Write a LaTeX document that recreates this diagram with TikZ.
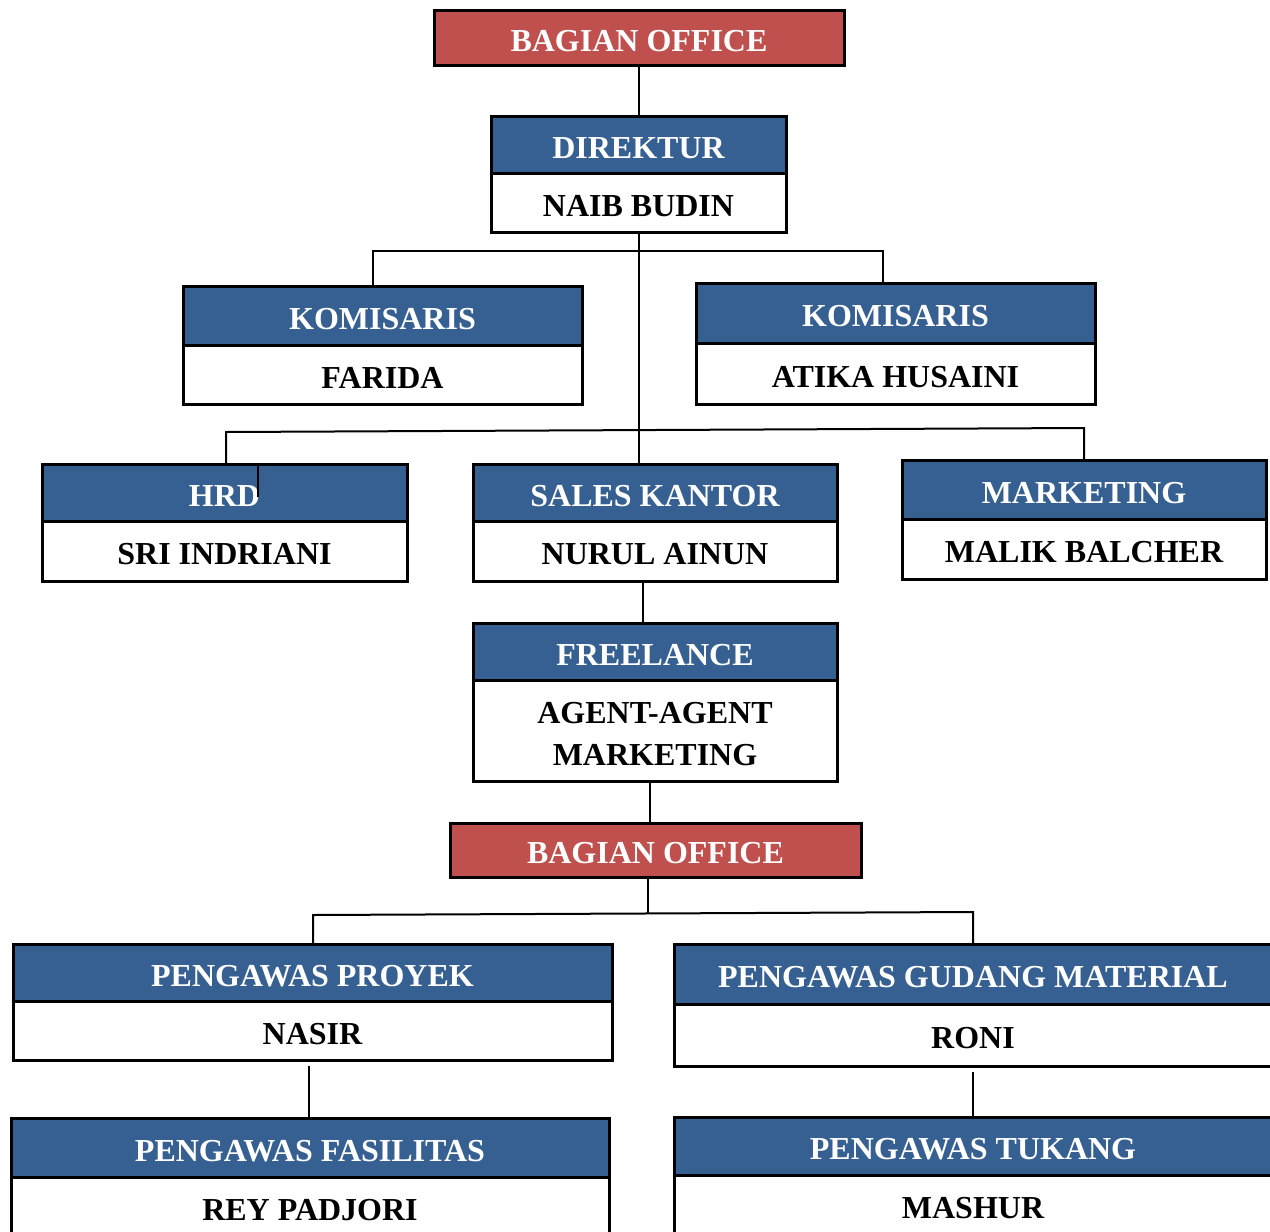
\documentclass[tikz,border=0pt]{standalone}
\usepackage{fontspec}
\setmainfont{Liberation Serif}
\usetikzlibrary{positioning}
\definecolor{hdrblue}{HTML}{376092}
\definecolor{ofcred}{HTML}{C0504D}

\begin{document}
\begin{tikzpicture}[x=0.5pt,y=-0.5pt,
	node distance=0pt,
	box/.style = {rectangle, draw, line width=1.5pt,% boxes of the chart
		inner sep=0pt, outer sep=0pt, align=center,
		text height=13.6pt, text depth=0pt,
		font=\fontsize{16}{21}\selectfont\bfseries},
	hdr/.style = {box, fill=hdrblue, text=white},
	bdy/.style = {box, fill=white, text=black},
	ofc/.style = {box, fill=ofcred, text=white},
	sz/.style 2 args = {minimum width=#1*0.5pt, minimum height=#2*0.5pt},
	conn/.style = {line width=1pt},
	]
	\useasboundingbox (0,0) rectangle (1270,1232);
	\clip (0,0) rectangle (1270,1232);
	% top
	\node[ofc, sz={410}{55}] (ofc1) at (639,37.5) {BAGIAN OFFICE};
	\node[hdr, sz={295}{57}] (dir-h) at (638.5,144.5) {DIREKTUR};
	\node[bdy, sz={295}{59}, below=of dir-h] (dir-b) {NAIB BUDIN};
	% komisaris
	\node[hdr, sz={399}{59}] (kom1-h) at (382.5,315.5) {KOMISARIS};
	\node[bdy, sz={399}{59}, below=of kom1-h] (kom1-b) {FARIDA};
	\node[hdr, sz={399}{60}] (kom2-h) at (895.5,313) {KOMISARIS};
	\node[bdy, sz={399}{61}, below=of kom2-h] (kom2-b) {ATIKA HUSAINI};
	% divisions
	\node[hdr, sz={365}{57}] (hrd-h) at (224.5,492.5) {HRD};
	\node[bdy, sz={365}{60}, below=of hrd-h] (hrd-b) {SRI INDRIANI};
	\node[hdr, sz={364}{57}] (sal-h) at (655,492.5) {SALES KANTOR};
	\node[bdy, sz={364}{60}, below=of sal-h] (sal-b) {NURUL AINUN};
	\node[hdr, sz={364}{59}] (mkt-h) at (1084,489.5) {MARKETING};
	\node[bdy, sz={364}{60}, below=of mkt-h] (mkt-b) {MALIK BALCHER};
	\node[hdr, sz={364}{57}] (fre-h) at (655,651.5) {FREELANCE};
	\node[bdy, sz={364}{101}, text height=34.6pt, below=of fre-h] (fre-b) {AGENT-AGENT\\MARKETING};
	% office
	\node[ofc, sz={411}{54}] (ofc2) at (655.5,850) {BAGIAN OFFICE};
	\node[hdr, sz={599}{57}] (pry-h) at (312.5,972.5) {PENGAWAS PROYEK};
	\node[bdy, sz={599}{59}, below=of pry-h] (pry-b) {NASIR};
	\node[hdr, sz={598}{60}] (gud-h) at (973,974) {PENGAWAS GUDANG MATERIAL};
	\node[bdy, sz={598}{62}, below=of gud-h] (gud-b) {RONI};
	\node[hdr, sz={598}{59}] (fas-h) at (310,1147.5) {PENGAWAS FASILITAS};
	\node[bdy, sz={598}{59}, below=of fas-h] (fas-b) {REY PADJORI};
	\node[hdr, sz={598}{58}] (tuk-h) at (973,1146) {PENGAWAS TUKANG};
	\node[bdy, sz={598}{60}, below=of tuk-h] (tuk-b) {MASHUR};
	% connectors
	\coordinate (bar1l) at (373,251);
	\coordinate (bar1r) at (883,251);
	\coordinate (bar2l) at (226,432);
	\coordinate (bar2r) at (1084,428);
	\coordinate (hrdtick) at (258,497);
	\coordinate (bar3l) at (313,915);
	\coordinate (bar3r) at (973,912);
	\coordinate (pf) at (309,1066);
	\draw[conn] (ofc1.south) -- (ofc1.south |- dir-h.north);
	\draw[conn] (dir-b.south) -- (dir-b.south |- sal-h.north);
	\draw[conn] (bar1l |- kom1-h.north) -- (bar1l) -- (bar1r) -- (bar1r |- kom2-h.north);
	\draw[conn] (bar2l |- hrd-h.north) -- (bar2l) -- (bar2r) -- (bar2r |- mkt-h.north);
	\draw[conn] (hrdtick |- hrd-h.north) -- (hrdtick);
	\draw[conn] (sal-b.south -| 643,0) -- (fre-h.north -| 643,0);
	\draw[conn] (fre-b.south -| 650,0) -- (ofc2.north -| 650,0);
	\draw[conn] (ofc2.south -| 648,0) -- (648,913.5);
	\draw[conn] (bar3l |- pry-h.north) -- (bar3l) -- (bar3r) -- (bar3r |- gud-h.north);
	\draw[conn] (pf) -- (pf |- fas-h.north);
	\draw[conn] ([yshift=-3pt]gud-b.south) -- (tuk-h.north);
\end{tikzpicture}
\end{document}
